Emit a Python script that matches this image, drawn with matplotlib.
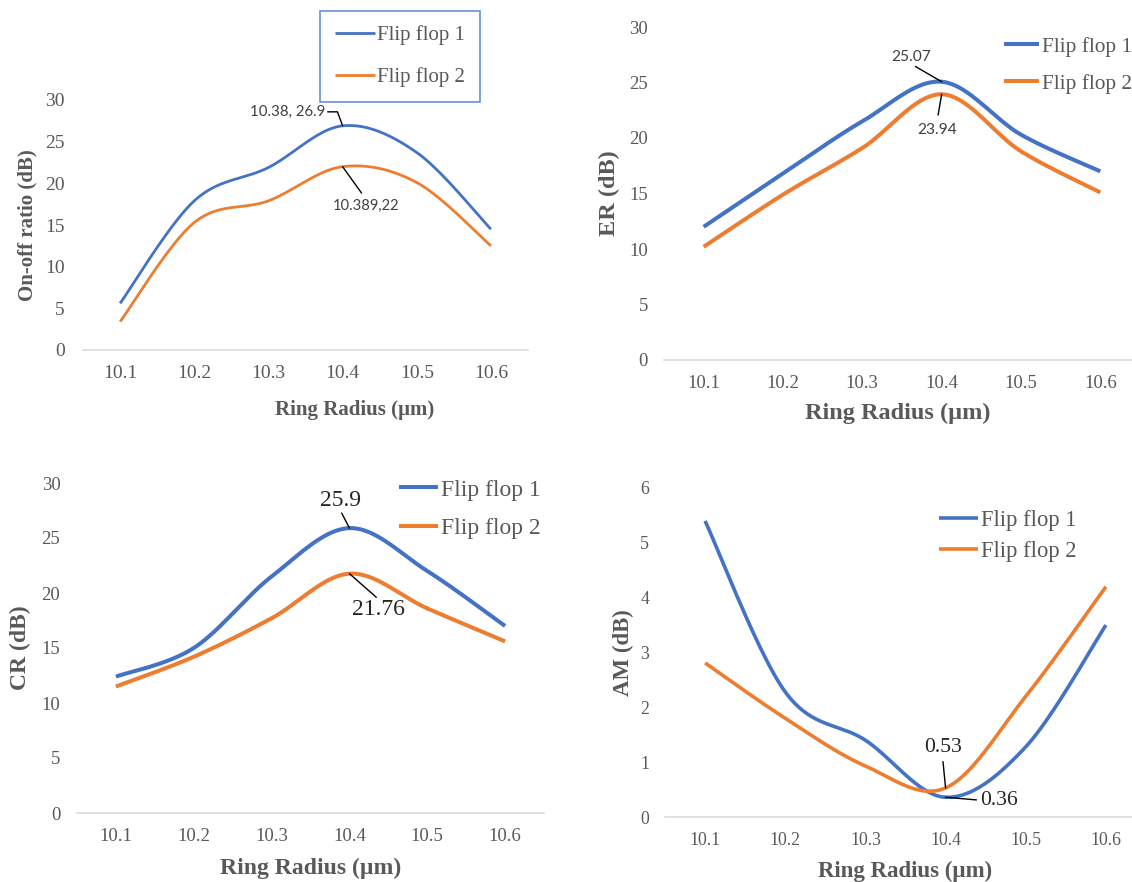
import numpy as np
import matplotlib.pyplot as plt

# ring radius categories (um)
radius = ['10.1', '10.2', '10.3', '10.4', '10.5', '10.6']

# values
onoff_ff1 = [5.6, 17.9, 21.9, 26.9, 23.7, 14.5]
onoff_ff2 = [3.4, 15.3, 17.9, 22.0, 20.1, 12.5]
er_ff1 = [12.0, 16.8, 21.5, 25.07, 20.3, 17.0]
er_ff2 = [10.2, 14.9, 19.1, 23.94, 18.8, 15.1]
cr_ff1 = [12.4, 15.0, 21.5, 25.9, 22.0, 17.0]
cr_ff2 = [11.5, 14.2, 17.7, 21.76, 18.6, 15.6]
am_ff1 = [5.4, 2.28, 1.4, 0.36, 1.28, 3.5]
am_ff2 = [2.81, 1.8, 0.93, 0.53, 2.2, 4.2]

BLUE = '#4472C4'
ORANGE = '#ED7D31'
GREY = '#595959'
SERIF = 'Liberation Serif'
SANS = 'Lato'

W, H = 1132, 882
fig = plt.figure(figsize=(W / 100, H / 100), dpi=100)


def smooth(vals, n=40):
    # excel-like smoothed line (catmull-rom through the points)
    x = np.arange(len(vals), dtype=float)
    y = np.asarray(vals, dtype=float)
    px = np.concatenate([[x[0]], x, [x[-1]]])
    py = np.concatenate([[y[0]], y, [y[-1]]])
    t = np.linspace(0, 1, n)
    xs, ys = [], []
    for i in range(1, len(px) - 2):
        for p, out in ((px, xs), (py, ys)):
            p0, p1, p2, p3 = p[i - 1], p[i], p[i + 1], p[i + 2]
            out.append(0.5 * (2 * p1 + (-p0 + p2) * t
                              + (2 * p0 - 5 * p1 + 4 * p2 - p3) * t ** 2
                              + (-p0 + 3 * p1 - 3 * p2 + p3) * t ** 3))
    return np.concatenate(xs), np.concatenate(ys)


def make_axes(x0, x1, ytop, ybot):
    return fig.add_axes([x0 / W, 1 - ybot / H, (x1 - x0) / W, (ybot - ytop) / H])


def style(ax, ymax, ystep, tsize, ypad, xpad):
    ax.set_xlim(-0.5, len(radius) - 0.5)
    ax.set_ylim(0, ymax)
    ax.set_yticks(np.arange(0, ymax + ystep / 2, ystep))
    ax.set_xticks(range(len(radius)))
    ax.set_xticklabels(radius)
    for s in ['top', 'right', 'left']:
        ax.spines[s].set_visible(False)
    ax.spines['bottom'].set_color('#D9D9D9')
    ax.spines['bottom'].set_linewidth(1.1)
    ax.tick_params(length=0, labelcolor=GREY)
    ax.tick_params(axis='y', pad=ypad)
    ax.tick_params(axis='x', pad=xpad)
    for lab in ax.get_xticklabels() + ax.get_yticklabels():
        lab.set_fontfamily(SERIF)
        lab.set_fontsize(tsize)
    ax.patch.set_alpha(0)


def labels(xl, xpos, yl, ypos, size):
    fig.text(xpos[0] / W, 1 - xpos[1] / H, xl, ha='center', va='center',
             fontsize=size, fontweight='bold', family=SERIF, color=GREY)
    fig.text(ypos[0] / W, 1 - ypos[1] / H, yl, ha='center', va='center', rotation=90,
             fontsize=size, fontweight='bold', family=SERIF, color=GREY)


def note(ax, txt, idx, val, off, ha, va, rel, shrink, font, size, color, conn='arc3'):
    ax.annotate(txt, xy=(idx, val), xytext=off, textcoords='offset pixels',
                ha=ha, va=va, fontsize=size, family=font, color=color,
                arrowprops=dict(arrowstyle='-', color='black', lw=1.0, patchA=None,
                                relpos=rel, shrinkA=shrink, shrinkB=0,
                                connectionstyle=conn))


def legend(ax, x, y, size, hl, ls, frame=False):
    leg = ax.legend(loc='upper left', bbox_to_anchor=(x / W, 1 - y / H),
                    bbox_transform=fig.transFigure, frameon=frame, fancybox=False,
                    borderaxespad=0, borderpad=0.7 if frame else 0,
                    handlelength=hl, handletextpad=0.12, labelspacing=ls,
                    prop={'family': SERIF, 'size': size})
    for t in leg.get_texts():
        t.set_color(GREY)
    if frame:
        leg.get_frame().set_edgecolor(BLUE)
        leg.get_frame().set_linewidth(1.2)
    return leg


# ---- On-off ratio
ax1 = make_axes(83, 528, 100, 350)
for vals, c, name in ((onoff_ff1, BLUE, 'Flip flop 1'), (onoff_ff2, ORANGE, 'Flip flop 2')):
    xs, ys = smooth(vals)
    ax1.plot(xs, ys, color=c, lw=2.0, label=name, solid_capstyle='butt')
style(ax1, 30, 5, 14, 13, 10.5)
labels('Ring Radius (µm)', (355, 410), 'On-off ratio (dB)', (27, 225), 15)
legend(ax1, 320, 11, 15, 1.92, 1.05, frame=True)
note(ax1, '10.38, 26.9', 3, onoff_ff1[3], (-17, 14), 'right', 'center', (1, 0.5), 1.5,
     SANS, 10.8, '#404040', conn='angle,angleA=0,angleB=110,rad=0')
note(ax1, '10.389,22', 3, onoff_ff2[3], (23, -39), 'center', 'center', (0.5, 1), 5,
     SANS, 10.6, '#404040')

# ---- ER
ax2 = make_axes(664, 1140, 27, 360)
for vals, c, name in ((er_ff1, BLUE, 'Flip flop 1'), (er_ff2, ORANGE, 'Flip flop 2')):
    xs, ys = smooth(vals)
    ax2.plot(xs, ys, color=c, lw=2.9, label=name, solid_capstyle='butt')
style(ax2, 30, 5, 13.5, 11.5, 10.5)
labels('Ring Radius (µm)', (898, 413), 'ER (dB)', (609, 193), 17.5)
legend(ax2, 1004, 37, 15.3, 1.65, 0.8)
note(ax2, '25.07', 3, er_ff1[3], (-31, 25), 'center', 'center', (0.5, 0), 4,
     SANS, 11.2, '#404040')
note(ax2, '23.94', 3, er_ff2[3], (-5, -36), 'center', 'center', (0.5, 1), 6,
     SANS, 11.2, '#404040')

# ---- CR
ax3 = make_axes(77, 544, 483, 813)
for vals, c, name in ((cr_ff1, BLUE, 'Flip flop 1'), (cr_ff2, ORANGE, 'Flip flop 2')):
    xs, ys = smooth(vals)
    ax3.plot(xs, ys, color=c, lw=2.9, label=name, solid_capstyle='butt')
style(ax3, 30, 5, 13.5, 12, 11)
labels('Ring Radius (µm)', (311, 868), 'CR (dB)', (20, 648), 17)
legend(ax3, 399, 479, 17, 1.65, 0.73)
note(ax3, '25.9', 3, cr_ff1[3], (-9, 28), 'center', 'center', (0.5, 0), 2,
     SERIF, 17, '#262626')
note(ax3, '21.76', 3, cr_ff2[3], (29, -36), 'center', 'center', (0.5, 1), 2,
     SERIF, 17, '#262626')

# ---- AM
ax4 = make_axes(665, 1146, 488, 817)
for vals, c, name in ((am_ff1, BLUE, 'Flip flop 1'), (am_ff2, ORANGE, 'Flip flop 2')):
    xs, ys = smooth(vals)
    ax4.plot(xs, ys, color=c, lw=2.6, label=name, solid_capstyle='butt')
style(ax4, 6, 1, 12.8, 11.5, 10.5)
labels('Ring Radius (µm)', (905, 871), 'AM (dB)', (623, 653), 16.5)
legend(ax4, 939, 510, 16.3, 1.73, 0.45)
note(ax4, '0.53', 3, am_ff2[3], (-3, 40), 'center', 'center', (0.5, 0), 3,
     SERIF, 15.6, '#262626')
note(ax4, '0.36', 3, am_ff1[3], (35, -3), 'left', 'center', (0, 0.5), 3,
     SERIF, 15.6, '#262626')

fig.savefig('out.png', dpi=100)
